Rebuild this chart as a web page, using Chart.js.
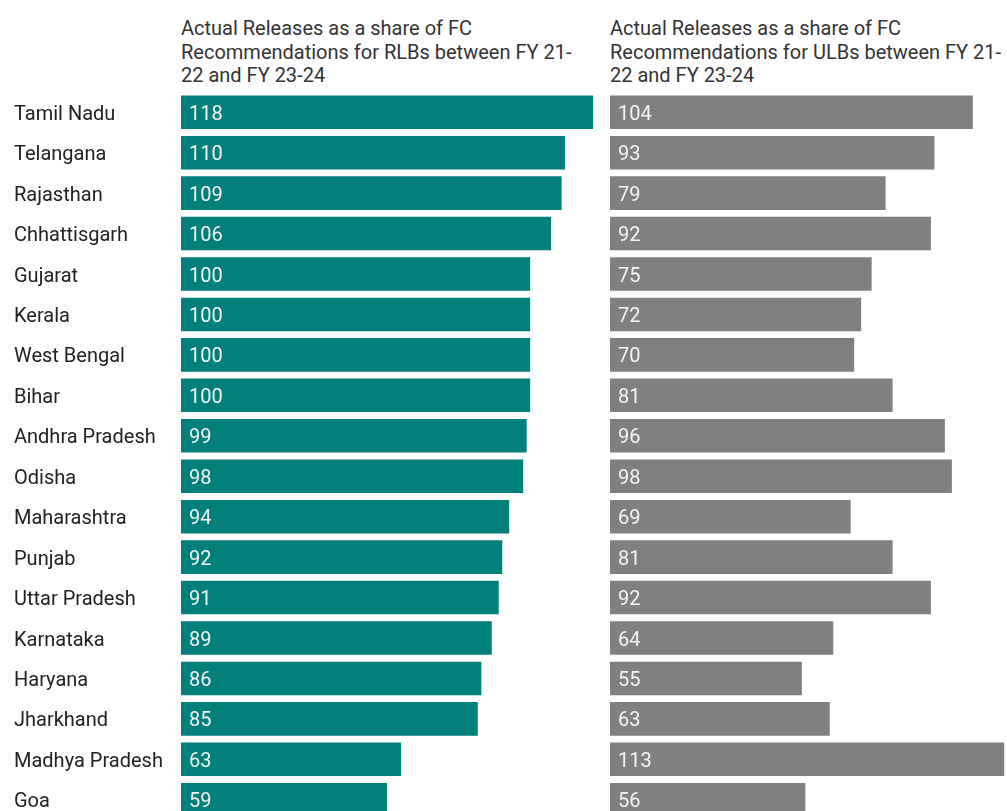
<!DOCTYPE html>
<html>
<head>
<meta charset="utf-8">
<script src="https://cdn.jsdelivr.net/npm/chart.js@4"></script>
<style>
  html, body { margin: 0; padding: 0; background: #fff; overflow: hidden; }
  body { width: 1007px; height: 811px; position: relative; font-family: Roboto, sans-serif; }
  .title { position: absolute; top: 17px; font-size: 20px; line-height: 23.5px; color: #333; white-space: nowrap; }
  #wrap_left { position: absolute; left: 0; top: 0; width: 600px; height: 832px; }
  #wrap_right { position: absolute; left: 600px; top: 0; width: 407px; height: 832px; }
</style>
</head>
<body>
<div class="title" style="left:181px">Actual Releases as a share of FC<br>Recommendations for RLBs between FY 21-<br>22 and FY 23-24</div>
<div class="title" style="left:610px">Actual Releases as a share of FC<br>Recommendations for ULBs between FY 21-<br>22 and FY 23-24</div>
<div id="wrap_left"><canvas id="chart_left" width="600" height="832"></canvas></div>
<div id="wrap_right"><canvas id="chart_right" width="407" height="832"></canvas></div>
<script>
// 주 이름 (위에서 아래 순서)
const states = ['Tamil Nadu', 'Telangana', 'Rajasthan', 'Chhattisgarh', 'Gujarat', 'Kerala',
    'West Bengal', 'Bihar', 'Andhra Pradesh', 'Odisha', 'Maharashtra', 'Punjab',
    'Uttar Pradesh', 'Karnataka', 'Haryana', 'Jharkhand', 'Madhya Pradesh', 'Goa'];
const rlb_values = [118, 110, 109, 106, 100, 100, 100, 100, 99, 98, 94, 92, 91, 89, 86, 85, 63, 59];
const ulb_values = [104, 93, 79, 92, 75, 72, 70, 81, 96, 98, 69, 81, 92, 64, 55, 63, 113, 56];

const teal = '#017f7a';
const grey = '#808080';

// 막대 안쪽에 값 쓰기
const valueLabels = {
    id: 'valueLabels',
    afterDatasetsDraw(chart) {
        let ctx = chart.ctx;
        let meta = chart.getDatasetMeta(0);
        let data = chart.data.datasets[0].data;
        ctx.save();
        ctx.fillStyle = '#f4f4f4';
        ctx.font = '20px Roboto';
        ctx.textAlign = 'left';
        ctx.textBaseline = 'middle';
        meta.data.forEach(function(bar, i) {
            ctx.fillText(data[i], bar.base + 8, bar.y + 2.5);
        });
        ctx.restore();
    }
};

function make_config(values, color, showLabels, padLeft, xMax) {
    let yAxis = {
        display: showLabels,
        grid: { display: false },
        border: { display: false },
        ticks: {
            crossAlign: 'far',
            color: '#222',
            font: { family: 'Roboto', size: 20 },
            padding: 0,
            labelOffset: 2.5
        }
    };
    if (showLabels) {
        yAxis.afterFit = function(axis) { axis.width = 167; };
    }
    return {
        type: 'bar',
        data: {
            labels: states,
            datasets: [{
                data: values,
                backgroundColor: color,
                borderWidth: 0,
                barPercentage: 0.83,
                categoryPercentage: 1.0
            }]
        },
        options: {
            indexAxis: 'y',
            responsive: false,
            animation: false,
            layout: { padding: { top: 92, bottom: 12, left: padLeft, right: 0 } },
            plugins: {
                legend: { display: false },
                tooltip: { enabled: false }
            },
            scales: {
                x: { display: false, min: 0, max: xMax },
                y: yAxis
            }
        },
        plugins: [valueLabels]
    };
}

new Chart(document.getElementById('chart_left').getContext('2d'),
    make_config(rlb_values, teal, true, 14, 120));
new Chart(document.getElementById('chart_right').getContext('2d'),
    make_config(ulb_values, grey, false, 10, 113.8));
</script>
</body>
</html>
